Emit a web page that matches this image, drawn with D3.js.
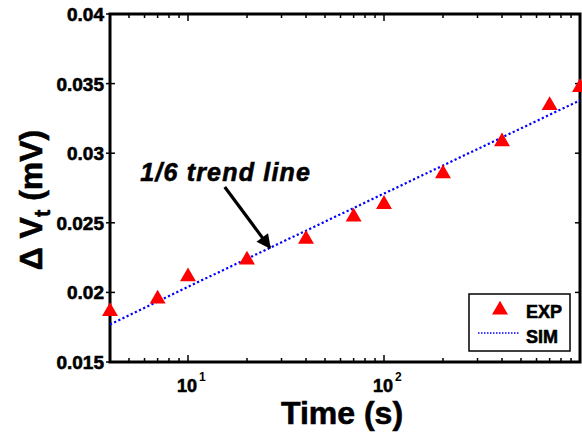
<!DOCTYPE html>
<html lang="en">
<head>
<meta charset="UTF-8">
<script src="https://d3js.org/d3.v7.min.js"></script>
<title>Delta Vt vs time</title>
<style>
body { margin: 0; background: #fff; }
svg { font-family: "Liberation Sans", Arial, sans-serif; font-weight: bold; }
.heavy { stroke: #000; stroke-width: 0.6; }
</style>
</head>
<body>
<svg id="chart" width="582" height="439"></svg>
<script>
// measured data (time in s, delta Vt in mV)
var expTime = [4, 7, 10, 20, 40, 70, 100, 200, 400, 700, 1000]
var expDvt  = [0.0187, 0.0196, 0.0212, 0.0224, 0.0239, 0.0255, 0.0264, 0.0286, 0.0309, 0.0335, 0.0348]
// simulated trend (1/6)
var simTime = [4, 10, 100, 1000]
var simDvt  = [0.0177, 0.0204, 0.0271, 0.0338]

var yTicks = [0.015, 0.02, 0.025, 0.03, 0.035, 0.04]
var yTickLabels = ["0.015", "0.02", "0.025", "0.03", "0.035", "0.04"]
var xMajor = [10, 100]
var xMajorExp = ["1", "2"]
var xMinor = [5, 6, 7, 8, 9, 20, 30, 40, 50, 60, 70, 80, 90, 200, 300, 400, 500, 600, 700, 800, 900]

var svg = d3.select("#chart"),
    margin = {top: 14, right: 2, bottom: 77, left: 110},
    width = +svg.attr("width") - margin.left - margin.right,
    height = +svg.attr("height") - margin.top - margin.bottom;

var x = d3.scaleLog().domain([4, 1000]).range([margin.left, margin.left + width])
var y = d3.scaleLinear().domain([0.015, 0.04]).range([margin.top + height, margin.top])

var x0 = margin.left, x1 = margin.left + width, y0 = margin.top + height, y1 = margin.top

// ticks (inside, on all four sides)
var tk = svg.append("g").attr("stroke", "#000").attr("stroke-width", 1.5)
xMinor.forEach(function(t) {
    tk.append("line").attr("x1", x(t)).attr("x2", x(t)).attr("y1", y0).attr("y2", y0 - 4)
    tk.append("line").attr("x1", x(t)).attr("x2", x(t)).attr("y1", y1).attr("y2", y1 + 4)
})
xMajor.forEach(function(t) {
    tk.append("line").attr("x1", x(t)).attr("x2", x(t)).attr("y1", y0).attr("y2", y0 - 7)
    tk.append("line").attr("x1", x(t)).attr("x2", x(t)).attr("y1", y1).attr("y2", y1 + 7)
})
yTicks.forEach(function(t) {
    tk.append("line").attr("x1", x0 - 4).attr("x2", x0 + 5).attr("y1", y(t)).attr("y2", y(t))
    tk.append("line").attr("x1", x1).attr("x2", x1 - 5).attr("y1", y(t)).attr("y2", y(t))
})

// frame
svg.append("rect")
    .attr("x", x0).attr("y", y1)
    .attr("width", width).attr("height", height)
    .attr("fill", "none").attr("stroke", "#000").attr("stroke-width", 3)

// y tick labels
svg.append("g").selectAll("text")
    .data(yTicks)
    .enter().append("text")
    .attr("class", "heavy")
    .attr("x", x0 - 6)
    .attr("y", d => y(d) + 7)
    .attr("text-anchor", "end")
    .attr("font-size", 19)
    .text((d, i) => yTickLabels[i])

// x tick labels 10^n
var xl = svg.append("g")
xMajor.forEach(function(t, i) {
    xl.append("text").attr("class", "heavy").attr("x", x(t) - 1).attr("y", y0 + 30)
        .attr("text-anchor", "middle").attr("font-size", 18).text("10")
    xl.append("text").attr("x", x(t) + 11).attr("y", y0 + 19)
        .attr("font-size", 12).text(xMajorExp[i])
})

// axis titles
svg.append("text")
    .attr("class", "heavy")
    .attr("x", 342).attr("y", 424)
    .attr("text-anchor", "middle")
    .attr("font-size", 32)
    .text("Time (s)")

var yl = svg.append("text")
    .attr("class", "heavy")
    .attr("transform", "translate(42,200) rotate(-90)")
    .attr("text-anchor", "middle")
    .attr("font-size", 32)
yl.append("tspan").text("\u0394 V")
yl.append("tspan").attr("font-size", 22).attr("dy", 8).text("t")
yl.append("tspan").attr("dy", -8).text(" (mV)")

// SIM line
var line = d3.line().x((d, i) => x(simTime[i])).y(d => y(d))
svg.append("path")
    .attr("d", line(simDvt))
    .attr("fill", "none")
    .attr("stroke", "#0000ff")
    .attr("stroke-width", 2.2)
    .attr("stroke-dasharray", "2.2,2.4")

// EXP markers
var tri = d3.symbol().type(d3.symbolTriangle).size(110)
svg.append("g").selectAll("path")
    .data(expDvt)
    .enter().append("path")
    .attr("d", tri)
    .attr("transform", (d, i) => `translate(${x(expTime[i])},${y(d) + 1})`)
    .attr("fill", "#ff0000")

// annotation
svg.append("text")
    .attr("class", "heavy")
    .attr("x", x(5.7)).attr("y", y(0.028))
    .attr("font-size", 25)
    .attr("font-style", "italic")
    .attr("letter-spacing", 1.2)
    .text("1/6 trend line")

svg.append("defs").append("marker")
    .attr("id", "head")
    .attr("viewBox", "0 0 10 10")
    .attr("refX", 9).attr("refY", 5)
    .attr("markerWidth", 5).attr("markerHeight", 4.5)
    .attr("markerUnits", "strokeWidth")
    .attr("orient", "auto")
    .append("path").attr("d", "M0,0L10,5L0,10Z").attr("fill", "#000")

svg.append("line")
    .attr("x1", x(15.4)).attr("y1", y(0.02757))
    .attr("x2", x(26.2)).attr("y2", y(0.0232))
    .attr("stroke", "#000").attr("stroke-width", 3.2)
    .attr("marker-end", "url(#head)")

// legend
var lg = svg.append("g")
lg.append("rect")
    .attr("x", 469).attr("y", 294).attr("width", 101).attr("height", 57)
    .attr("fill", "#fff").attr("stroke", "#000").attr("stroke-width", 1.5)
lg.append("path").attr("d", tri).attr("transform", "translate(500,310)").attr("fill", "#ff0000")
lg.append("line")
    .attr("x1", 478).attr("x2", 519).attr("y1", 333).attr("y2", 333)
    .attr("stroke", "#0000ff").attr("stroke-width", 1.5).attr("stroke-dasharray", "1.5,1.5")
lg.append("text").attr("class", "heavy").attr("x", 526).attr("y", 318).attr("font-size", 18).text("EXP")
lg.append("text").attr("class", "heavy").attr("x", 526).attr("y", 343).attr("font-size", 18).text("SIM")
</script>
</body>
</html>
